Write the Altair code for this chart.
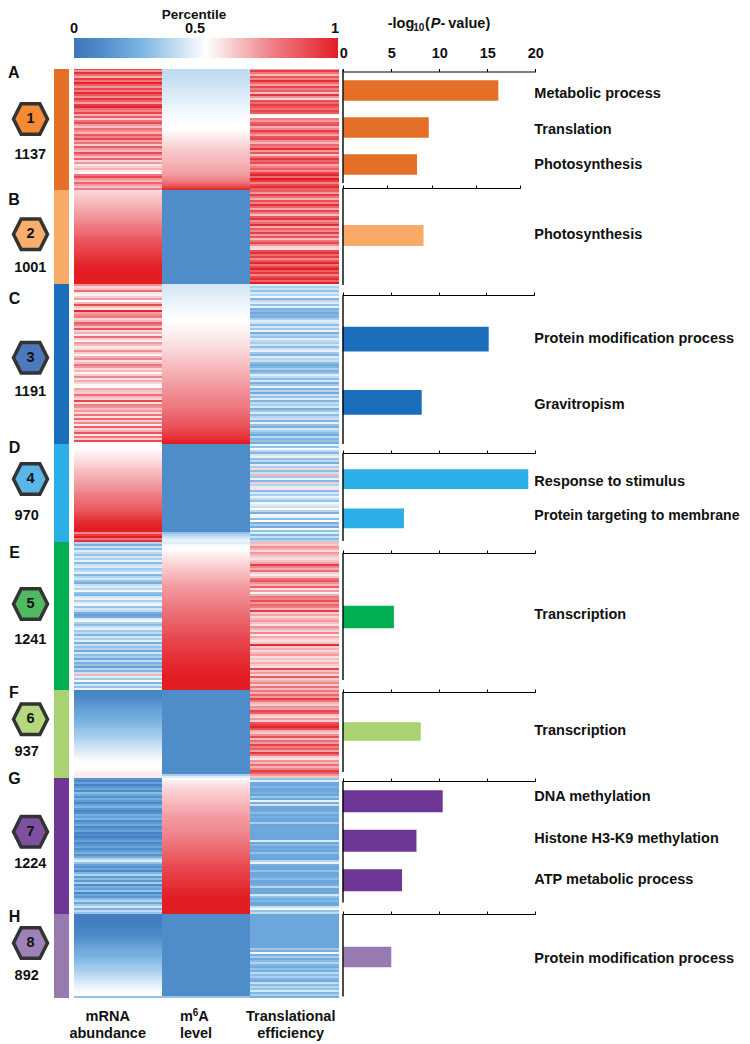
import altair as alt
import pandas as pd

# ---- cluster metadata -------------------------------------------------
cluster_ids = [1, 2, 3, 4, 5, 6, 7, 8]
cluster_letters = ["A", "B", "C", "D", "E", "F", "G", "H"]
cluster_counts = ["1137", "1001", "1191", "970", "1241", "937", "1224", "892"]
cluster_rows = [61, 47, 80, 49, 74, 44, 68, 42]
strip_colors = ["#E46F26", "#F9A968", "#1B6FBA", "#2CAEE6", "#00B050", "#A9D373", "#6F3795", "#967BB0"]
hex_colors = ["#F68B33", "#F9AE6B", "#4C79BD", "#5CB5E8", "#52B963", "#B5D77F", "#7D50A0", "#9F81B9"]

# ---- enrichment bars ---------------------------------------------------
terms = [
    ["Metabolic process", "Translation", "Photosynthesis"],
    ["Photosynthesis"],
    ["Protein modification process", "Gravitropism"],
    ["Response to stimulus", "Protein targeting to membrane"],
    ["Transcription"],
    ["Transcription"],
    ["DNA methylation", "Histone H3-K9 methylation", "ATP metabolic process"],
    ["Protein modification process"],
]
scores = [
    [16.15, 8.9, 7.68],
    [9.1],
    [15.24, 8.25],
    [19.3, 6.35],
    [5.3],
    [8.1],
    [10.4, 7.67, 6.17],
    [5.0],
]

# ---- heat-map percentiles (x100), top row first ------------------------
mrna_a = [88,72,95,80,66,92,78,98,84,70,
          90,76,96,86,72,94,82,68,92,98,
          80,74,90,66,84,60,78,88,70,62,
          80,72,64,86,74,90,68,78,60,84,
          70,64,88,74,62,82,58,70,55,60,
          66,54,52,78,90,72,64,82,70,62,76]
mrna_b = [58,59,60,61,62,63,64,65,66,67,
          68,69,70,71,72,73,74,76,77,78,
          79,80,81,83,85,86,87,88,89,90,
          91,92,93,94,95,96,97,98,99,99,
          100,100,100,100,100,100,100]
mrna_c = [72,58,62,80,55,52,60,70,50,64,
          88,62,56,98,68,74,78,58,64,84,
          76,62,86,58,66,54,80,60,52,70,
          64,54,58,72,60,52,66,74,56,62,
          78,70,58,64,52,60,74,56,66,58,
          52,50,68,62,60,80,64,58,90,56,
          76,72,62,70,58,78,56,82,60,74,
          54,84,58,66,86,56,78,60,88,52]
mrna_d = [50,50,51,52,53,54,55,56,57,58,
          59,60,62,63,64,65,66,67,68,69,
          70,71,72,73,75,76,77,78,79,80,
          82,83,84,86,88,90,92,94,96,97,
          98,99,100,100,74,92,100,78,94]
mrna_e = [36,24,40,28,44,38,30,42,34,46,
          28,40,44,32,38,46,26,36,42,30,
          24,40,44,36,48,30,26,42,46,34,
          44,48,30,42,38,24,18,22,44,48,
          34,28,40,46,32,38,26,42,34,44,
          24,40,30,36,22,42,28,34,20,38,
          24,30,18,36,26,40,65,44,32,48,
          26,42,30,46]
mrna_f = [5,6,7,8,10,11,13,14,16,17,
          19,20,21,22,24,25,26,27,28,30,
          31,32,33,34,35,37,38,39,41,42,
          43,44,46,47,48,49,50,50,50,51,
          52,53,54,54]
mrna_g = [14,8,18,6,14,22,10,28,20,12,
          24,16,8,20,26,14,6,12,24,18,
          26,10,16,22,8,14,20,6,10,4,
          12,18,8,14,20,10,16,24,12,22,
          36,44,30,18,12,22,8,26,36,16,
          28,14,34,10,24,18,30,8,20,14,
          28,36,20,32,42,24,38,30]
mrna_h = [4,3,3,3,4,4,5,6,7,8,
          9,10,12,13,15,17,19,20,22,23,
          24,25,27,28,29,31,32,33,34,36,
          37,39,40,42,43,45,46,47,48,49,
          50,30]

m6a_a = [38,38,38,39,39,39,40,40,41,41,
         42,42,43,43,44,44,45,45,46,46,
         47,47,48,48,49,49,49,50,50,50,
         50,51,52,53,54,55,56,57,58,59,
         60,61,62,62,63,64,64,65,66,67,
         67,68,69,70,72,74,76,80,84,90,96]
m6a_b = [10] * 47
m6a_c = [42,42,43,43,44,44,45,45,46,46,
         47,47,48,48,48,49,49,49,50,50,
         51,52,52,53,53,54,54,55,55,56,
         56,57,58,58,59,60,60,61,62,62,
         63,64,64,65,66,66,67,68,68,69,
         70,70,71,72,72,73,74,74,75,76,
         76,77,78,79,80,81,82,83,84,85,
         86,87,88,90,91,93,94,96,98,100]
m6a_d = [10] * 44 + [30,36,40,44,46]
m6a_e = [44,48,50,50,51,52,54,55,56,57,
         58,59,60,61,62,63,64,65,66,67,
         68,69,70,70,71,72,72,73,74,74,
         75,76,77,78,78,79,80,81,82,82,
         83,84,85,85,86,87,88,89,89,90,
         91,91,92,93,93,94,95,95,96,96,
         97,97,98,98,99,99,100,100,100,100,
         100,100,100,100]
m6a_f = [10] * 42 + [34,44]
m6a_g = [50,53,55,56,57,58,59,60,61,62,
         62,63,64,65,66,66,67,68,69,70,
         70,71,71,72,72,73,73,74,75,75,
         76,77,78,79,80,80,81,82,83,84,
         85,86,87,88,89,90,90,91,92,93,
         93,94,95,95,96,97,98,98,99,100,
         100,100,100,100,100,100,100,100]
m6a_h = [10] * 41 + [30]

te_a = [70,92,78,64,86,74,96,80,68,90,
        76,84,62,94,72,58,88,80,92,86,
        78,90,84,52,50,76,70,84,88,66,
        74,92,80,68,86,90,72,64,82,76,
        96,70,86,62,78,94,82,88,68,76,
        84,72,90,98,80,100,92,74,88,96,84]
te_b = [84,70,92,78,66,88,74,96,82,68,
        90,76,62,86,94,72,80,96,66,84,
        74,92,70,86,64,78,90,72,58,56,
        88,96,80,92,72,86,98,78,90,100,
        84,94,74,88,96,82,100]
te_c = [44,34,40,30,42,36,48,26,38,44,
        30,46,24,28,22,26,24,34,44,40,
        28,42,32,46,24,36,30,44,38,34,
        42,28,40,46,32,26,44,36,40,28,
        22,26,34,24,30,44,38,28,42,24,
        32,46,26,36,22,40,30,44,26,38,
        34,42,24,32,44,28,36,40,26,46,
        30,24,42,34,28,22,38,26,30,24]
te_d = [46,30,48,36,26,42,54,30,38,24,
        44,34,58,28,40,64,32,46,26,60,
        36,44,56,28,42,34,46,38,30,48,
        44,40,50,36,24,52,46,28,50,24,
        34,22,48,30,44,26,40,28,36]
te_e = [64,60,72,66,58,70,64,60,56,62,
        68,92,74,66,80,60,54,62,78,86,
        72,64,84,56,70,52,66,78,74,88,
        70,82,76,64,92,60,68,58,64,70,
        62,56,72,66,58,74,54,68,60,56,
        62,96,60,66,58,64,70,56,62,58,
        66,60,56,90,62,70,58,84,60,66,
        74,60,78,64]
te_f = [76,66,82,70,92,78,64,60,72,68,
        90,84,62,58,70,60,86,92,98,88,
        66,60,72,88,62,80,70,90,76,84,
        68,94,78,60,56,72,64,80,66,74,
        92,84,70,62]
te_g = [30,44,22,20,26,20,20,24,20,32,
        20,46,24,40,20,20,22,28,20,24,
        20,20,34,20,20,20,22,20,20,20,
        20,44,20,28,20,22,20,30,20,20,
        20,36,46,24,20,20,30,20,20,22,
        28,20,20,24,36,20,22,20,42,30,
        22,26,20,20,40,48,30,38]
te_h = [20,20,20,20,20,20,20,20,20,20,
        20,20,20,20,20,20,20,32,24,48,
        24,34,22,28,36,26,22,30,24,38,
        28,34,26,22,40,28,36,30,42,26,
        34,24]

columns = [
    [mrna_a, mrna_b, mrna_c, mrna_d, mrna_e, mrna_f, mrna_g, mrna_h],
    [m6a_a, m6a_b, m6a_c, m6a_d, m6a_e, m6a_f, m6a_g, m6a_h],
    [te_a, te_b, te_c, te_d, te_e, te_f, te_g, te_h],
]

# ---- page geometry (page pixels, the chart sits at an 8px margin) ------
M = 8
FONT = "Liberation Sans"
FS = 14.5
axis_y = [71.5, 188, 295, 453, 553, 692, 781, 914]
axis_x0 = [343.3, 342.7, 342.7, 343, 343, 343, 342.7, 343.3]
axis_x1 = [535.3, 520.3, 534.3, 535, 535, 535, 535, 535.3]
vline_top = [69.5, 188, 295, 453, 553, 692, 781, 914]
vline_bot = [183, 285, 444, 541, 680, 772, 902.5, 996.5]
band_top = [72, 188, 307.4, 459.5, 553, 692, 781.5, 914]
band_bot = [183, 283, 433.9, 538, 681, 771, 900, 1000]
bar_size = [20.5, 21, 24.7, 19.7, 22.3, 18.3, 22, 20.3]
hex_y = [119, 234.3, 357.7, 479, 604, 719.3, 831.7, 943]
count_y = [155, 268, 391.7, 516, 640, 751.7, 864.3, 976]
count_x = [30.3, 30.3, 30.3, 26.7, 30.3, 26.7, 30.3, 26.7]
letter_x = [13.8, 14, 14.5, 14.5, 14.5, 14, 14.5, 14.5]
letter_y = [73, 199.7, 299, 448, 552.7, 693, 779, 916.7]
term_x = 534.3
term_y = [[94, 129.5, 165], [235], [339, 405], [482, 516], [615], [731], [797, 839, 880], [959]]

ONE = alt.Data(values=[{"t": 1}])


def text(label, x, y, size=FS, align="center", style="normal", color="#111111"):
    return alt.Chart(alt.Data(values=[{"t": label}])).mark_text(
        font=FONT, fontWeight="bold", fontSize=size, fontStyle=style, align=align,
        baseline="middle", color=color,
    ).encode(x=alt.value(x - M), y=alt.value(y - M + 1), text="t:N")


# ---- heat map ----------------------------------------------------------
row_scale = alt.Scale(domain=[0, 465], range=[60, 990], nice=False, zero=False)
col_scale = alt.Scale(domain=[0, 1, 2, 3], range=[66, 154, 242, 331], nice=False, zero=False)
heat_color = alt.Scale(
    domain=[0, 0.1, 0.25, 0.5, 0.75, 1],
    range=["#3F75BB", "#4F8CCA", "#7AB3E2", "#FFFFFF", "#EF8087", "#E31D24"],
    interpolate="rgb",
)

starts = [sum(cluster_rows[:i]) for i in range(len(cluster_rows))]
records = []
for c, panels in enumerate(columns):
    for k, panel in enumerate(panels):
        for i, v in enumerate(panel):
            r = starts[k] + i
            records.append({"c0": c, "c1": c + 1, "r0": max(r, 0.5), "r1": r + 1, "v": v / 100})
heat = alt.Chart(pd.DataFrame(records)).mark_rect(strokeWidth=0).encode(
    x=alt.X("c0:Q", scale=col_scale, axis=None),
    x2="c1:Q",
    y=alt.Y("r0:Q", scale=row_scale, axis=None),
    y2="r1:Q",
    color=alt.Color("v:Q", scale=heat_color, legend=None),
)

layers = [heat]

# ---- colour strip ------------------------------------------------------
strip_df = pd.DataFrame({
    "r0": [max(s, 0.5) for s in starts],
    "r1": [s + n for s, n in zip(starts, cluster_rows)],
    "k": cluster_letters,
})
layers.append(alt.Chart(strip_df).mark_rect(strokeWidth=0).encode(
    x=alt.value(54 - M), x2=alt.value(69 - M),
    y=alt.Y("r0:Q", scale=row_scale, axis=None), y2="r1:Q",
    color=alt.Color("k:N", scale=alt.Scale(domain=cluster_letters, range=strip_colors), legend=None),
))

# ---- colour bar --------------------------------------------------------
grad = alt.Gradient(
    gradient="linear", x1=0, x2=1, y1=0, y2=0,
    stops=[
        alt.GradientStop(offset=0, color="#3F75BB"),
        alt.GradientStop(offset=0.1, color="#4F8CCA"),
        alt.GradientStop(offset=0.25, color="#7AB3E2"),
        alt.GradientStop(offset=0.5, color="#FFFFFF"),
        alt.GradientStop(offset=0.75, color="#EF8087"),
        alt.GradientStop(offset=1, color="#E31D24"),
    ],
)
layers.append(alt.Chart(ONE).mark_rect(color=grad).encode(
    x=alt.value(74 - M), x2=alt.value(338 - M), y=alt.value(38 - M), y2=alt.value(58 - M),
))
layers += [
    text("Percentile", 194, 14, size=13.5),
    text("0", 74, 28), text("0.5", 195, 28), text("1", 335, 28),
]

# ---- clusters: hexagon, labels, axis and bars --------------------------
HEX = "M-1,0L-0.55,-0.9L0.55,-0.9L1,0L0.55,0.9L-0.55,0.9Z"
for k in range(8):
    layers.append(alt.Chart(ONE).mark_point(
        shape=HEX, size=1156, filled=True, fill=hex_colors[k], stroke="#333333",
        strokeWidth=3.5, opacity=1, fillOpacity=1,
    ).encode(x=alt.value(30.5 - M), y=alt.value(hex_y[k] - M)))
    layers.append(text(str(cluster_ids[k]), 30.5, hex_y[k] - 1))
    layers.append(text(cluster_counts[k], count_x[k], count_y[k] - 1))
    layers.append(text(cluster_letters[k], letter_x[k], letter_y[k] - 1, size=16))

    df = pd.DataFrame({"term": terms[k], "score": scores[k]})
    axis = alt.Axis(
        orient="top", offset=-(axis_y[k] - M), values=[0, 5, 10, 15, 20], labels=k == 0,
        tickSize=3, tickColor="#000000", domainColor="#000000", domainWidth=1, tickWidth=1,
        labelFont=FONT, labelFontWeight="bold", labelFontSize=14.5, labelColor="#111111",
        labelPadding=8, labelFlush=False, labelOverlap=False, grid=False, title=None, format="d",
    )
    layers.append(alt.Chart(df).mark_bar(size=bar_size[k], color=strip_colors[k]).encode(
        x=alt.X("score:Q", scale=alt.Scale(domain=[0, 20], range=[axis_x0[k] - M, axis_x1[k] - M], nice=False), axis=axis),
        y=alt.Y("term:N", scale=alt.Scale(domain=terms[k], range=[band_top[k] - M, band_bot[k] - M]), axis=None),
    ))
    layers.append(alt.Chart(ONE).mark_rule(color="#000000", strokeWidth=1.4).encode(
        x=alt.value(343 - M), y=alt.value(vline_top[k] - M), y2=alt.value(vline_bot[k] - M),
    ))
    for label, y in zip(terms[k], term_y[k]):
        size = 14.1 if label == "Protein targeting to membrane" else FS
        layers.append(text(label, term_x, y - 1, size=size, align="left"))

# ---- x axis title with subscript and italic ----------------------------
layers += [
    text("-log", 387.7, 23, align="left"),
    text("10", 413.3, 27, size=10, align="left"),
    text("(", 425, 23, align="left"),
    text("P", 430.7, 23, align="left", style="italic"),
    text("-", 440.5, 23, align="left"),
    text("value)", 448.3, 23, align="left"),
]

# ---- column captions ---------------------------------------------------
layers += [
    text("mRNA", 107.7, 1015.7), text("abundance", 107.7, 1033),
    text("m", 186.5, 1015.7), text("6", 195.5, 1012, size=10), text("A", 203.5, 1015.7),
    text("level", 196, 1033),
    text("Translational", 290.7, 1015.7), text("efficiency", 290.7, 1033),
]

chart = (
    alt.layer(*layers)
    .resolve_scale(x="independent", y="independent", color="independent")
    .resolve_axis(x="independent", y="independent")
    .properties(width=734, height=1036, padding=0, autosize=alt.AutoSizeParams(type="none"), background="white")
    .configure_view(stroke=None)
)
chart.save("out.html", embed_options={"renderer": "svg", "actions": False})
